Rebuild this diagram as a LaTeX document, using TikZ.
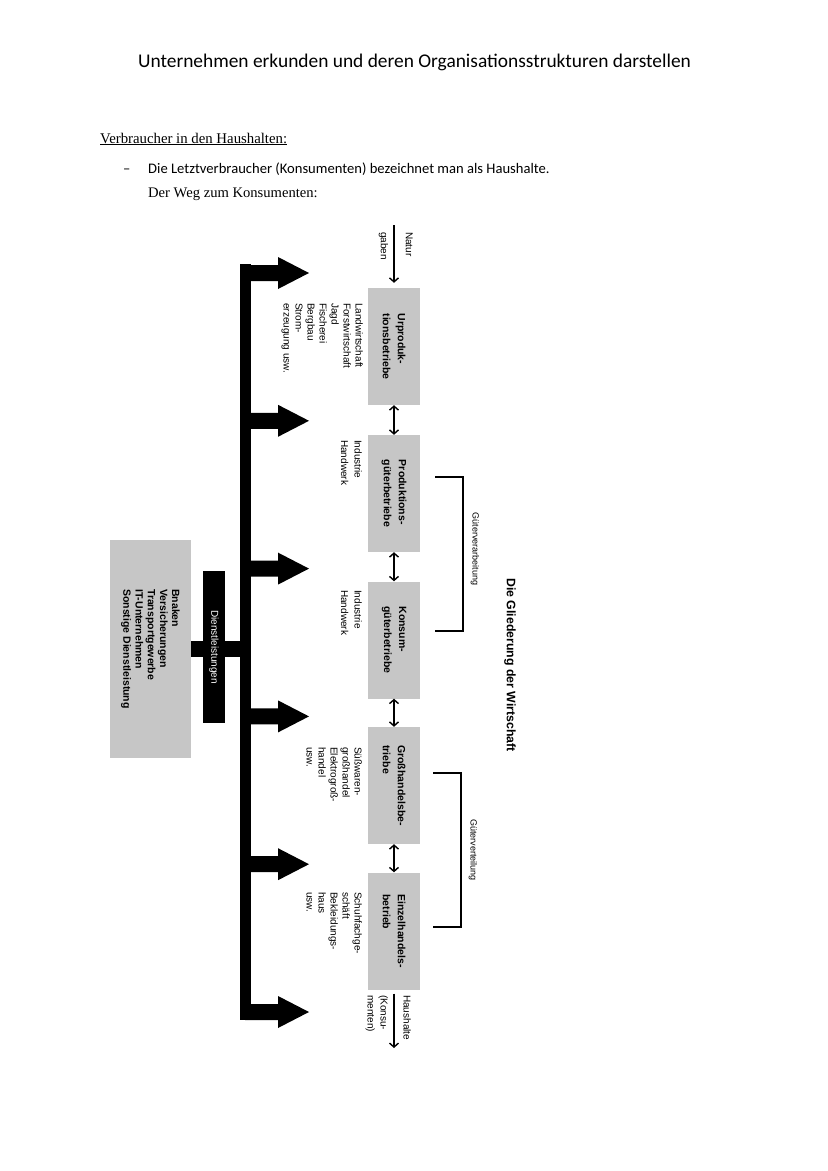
\documentclass[tikz,border=0pt]{standalone}
\usepackage{fontspec}
\setmainfont{Liberation Sans}
\newfontfamily\calfont{Carlito}
\newfontfamily\serfont{Liberation Serif}
\usepackage{tikz}
\usetikzlibrary{arrows.meta}
\definecolor{boxgray}{HTML}{C6C6C6}
\tikzset{
  box/.style={rotate=-90, fill=boxgray, minimum width=117pt, minimum height=52pt, align=left, inner sep=0pt, font=\fontsize{10.5}{15}\selectfont\bfseries},
  side/.style={rotate=-90, anchor=north west, align=left, inner sep=0pt, font=\fontsize{10}{12}\selectfont},
  pfeil/.style={line width=1.4pt, -{Straight Barb[length=4pt,width=9pt]}},
  dbl/.style={line width=1.4pt, {Straight Barb[length=4pt,width=9pt]}-{Straight Barb[length=4pt,width=9pt]}},
  klammer/.style={line width=1.4pt},
  lab/.style={rotate=-90, inner sep=0pt, font=\fontsize{9}{11}\selectfont},
  kopf/.style={anchor=base west, inner sep=0pt},
}

\begin{document}
\begin{tikzpicture}[x=1pt, y=-1pt]
  \fill[white] (0,0) rectangle (828,1171);
  \useasboundingbox (0,0) rectangle (828,1171);
  % Kopf
  \node[font=\calfont\fontsize{19.4}{23}\selectfont] (titel) at (414.5,62) {Unternehmen erkunden und deren Organisationsstrukturen darstellen};
  \node[kopf, font=\serfont\fontsize{14.8}{17}\selectfont] (abschn) at (100,143) {\underline{Verbraucher in den Haushalten:}};
  \node[kopf, font=\calfont\fontsize{14.6}{17}\selectfont] (strich) at (123,173) {–};
  \node[kopf, font=\calfont\fontsize{14.6}{17}\selectfont] (satz) at (148,173) {Die Letztverbraucher (Konsumenten) bezeichnet man als Haushalte.};
  \node[kopf, font=\serfont\fontsize{14.6}{17}\selectfont] (weg) at (148,197) {Der Weg zum Konsumenten:};

  % Rueckgrat mit Blockpfeilen
  \fill (240,264) rectangle (251,1020);
  \foreach \y in {273,420.8,568.6,716.4,864.2,1012}
    \fill (245,\y-8) -- (278,\y-8) -- (278,\y-16) -- (309,\y) -- (278,\y+16) -- (278,\y+8) -- (245,\y+8) -- cycle;

  % Stufen
  \node[box] (urp) at (394,346.5) {Urproduk-\\tionsbetriebe};
  \node[box] (prod) at (394,493.5) {Produktions-\\güterbetriebe};
  \node[box] (kons) at (394,640) {Konsum-\\güterbetriebe};
  \node[box] (gross) at (394,785.5) {Großhandelsbe-\\triebe};
  \node[box] (ezh) at (394,931) {Einzelhandels-\\betrieb};
  \foreach \a/\b in {urp/prod, prod/kons, kons/gross, gross/ezh}
    \draw[dbl] (\a.east) -- (\b.west);

  \coordinate (natq) at (394,225);
  \draw[pfeil, shorten >=5pt] (natq) -- (urp.west);
  \node[side] (natur) at (413,232) {Natur\\[13pt]gaben};
  \coordinate (hhz) at (394,1048);
  \draw[pfeil, shorten <=4pt] (ezh.east) -- (hhz);
  \node[side, font=\fontsize{10}{13}\selectfont] (haus) at (411,995) {Haushalte\\[10pt](Konsu-\\menten)};

  % Beispiele
  \node[side] (urpl) at (363,303) {Landwirtschaft\\Forstwirtschaft\\Jagd\\Fischerei\\Bergbau\\Strom-\\erzeugung usw.};
  \node[side, font=\fontsize{10}{13.5}\selectfont] (prodl) at (362,440) {Industrie\\Handwerk};
  \node[side, font=\fontsize{10}{13.5}\selectfont] (konsl) at (362,590) {Industrie\\Handwerk};
  \node[side] (grossl) at (362,747) {Süßwaren-\\großhandel\\Elektrogroß-\\handel\\usw.};
  \node[side] (ezhl) at (362,892) {Schuhfachge-\\schäft\\Bekleidungs-\\haus\\usw.};

  % Dienstleistungen
  \node[box, minimum width=218pt, minimum height=81pt, font=\fontsize{10.5}{12.2}\selectfont\bfseries] (dienst) at (150.5,649) {Bnaken\\Versicherungen\\Transportgewerbe\\IT-Unternehmen\\Sonstige Dienstleistung};
  \coordinate (rueck) at (245,649);
  \draw[line width=16pt] (dienst.north) -- (rueck);
  \node[rotate=-90, fill=black, text=white, minimum width=152pt, minimum height=22pt, inner sep=0pt, font=\fontsize{10}{12}\selectfont] (dl) at (214,647) {Dienstleistungen};

  % Klammern
  \draw[klammer] (435,477) -- (463,477) -- (463,631) -- (435,631);
  \node[lab] (verarb) at (475,549) {Güterverarbeitung};
  \draw[klammer] (433,773) -- (461,773) -- (461,927) -- (433,927);
  \node[lab] (verteil) at (473,850) {Güterverteilung};

  \node[rotate=-90, font=\fontsize{12.3}{15}\selectfont\bfseries] (glied) at (510,665) {Die Gliederung der Wirtschaft};
\end{tikzpicture}
\end{document}
